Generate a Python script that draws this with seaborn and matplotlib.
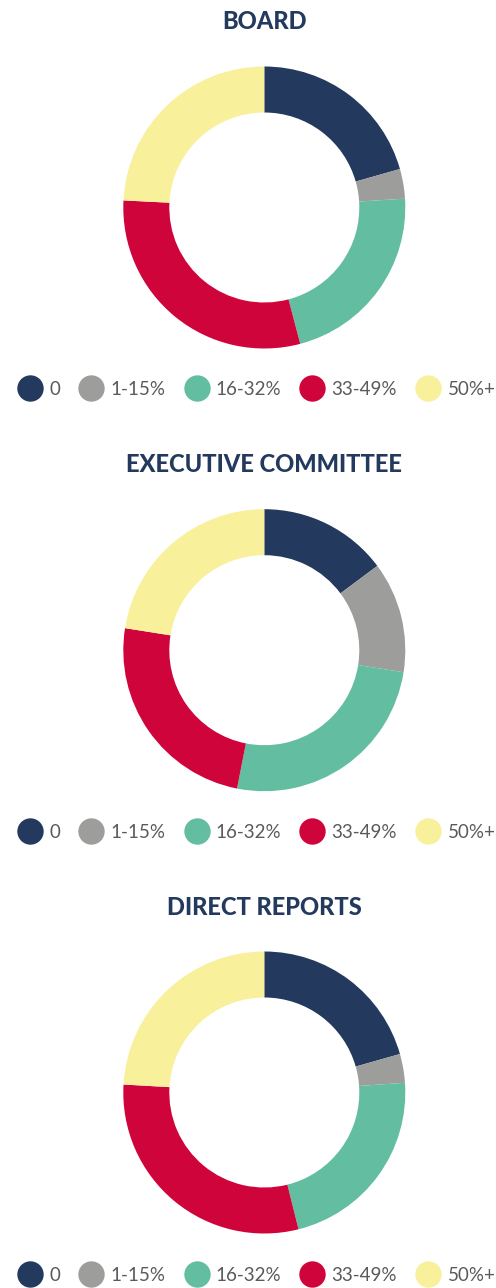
import matplotlib
matplotlib.use("Agg")
import matplotlib.pyplot as plt
from matplotlib.lines import Line2D
import seaborn as sns

categories = ["0", "1-15%", "16-32%", "33-49%", "50%+"]
titles = ["BOARD", "EXECUTIVE COMMITTEE", "DIRECT REPORTS"]
board = [20.6, 3.4, 21.9, 29.9, 24.2]
executive = [14.8, 12.7, 25.6, 24.4, 22.5]
direct_reports = [20.6, 3.3, 22.2, 29.8, 24.1]
series = [board, executive, direct_reports]

colors = sns.color_palette(["#233a5e", "#9d9d9c", "#63bea1", "#cf043b", "#f8f09b"])

sns.set_theme(style="white")
plt.rcParams["font.family"] = ["Lato", "DejaVu Sans"]

W, H = 496, 1288
fig = plt.figure(figsize=(W / 100, H / 100), dpi=100)
fig.patch.set_facecolor("white")

R = 141.0
cx = 264.3
centers_y = [207.5, 650.2, 1092.5]
title_y = [21.5, 465, 907.5]
legend_y = [389.5, 832.5, 1275.5]

for vals, title, cy, ty, ly in zip(series, titles, centers_y, title_y, legend_y):
    ax = fig.add_axes([(cx - R) / W, (H - cy - R) / H, 2 * R / W, 2 * R / H])
    ax.pie(vals, colors=colors, startangle=90, counterclock=False, radius=1.0,
           wedgeprops=dict(width=46 / R, linewidth=0))
    ax.set_xlim(-1, 1)
    ax.set_ylim(-1, 1)
    ax.set_aspect("equal")
    ax.axis("off")
    fig.text(cx / W, 1 - ty / H, title, ha="center", va="center",
             fontsize=17, fontweight="black", color="#233a5e")
    handles = [Line2D([0], [0], marker="o", linestyle="none", markersize=19,
                      markerfacecolor=c, markeredgewidth=0) for c in colors]
    leg = fig.legend(handles, categories, loc="center left",
                     bbox_to_anchor=(17 / W, 1 - ly / H), ncol=5, frameon=False,
                     fontsize=13.5, handlelength=1.4, handletextpad=0.33,
                     columnspacing=0.95, borderpad=0, borderaxespad=0)
    for t in leg.get_texts():
        t.set_color("#5a5a5a")

fig.savefig("out.png", dpi=100, facecolor="white")
